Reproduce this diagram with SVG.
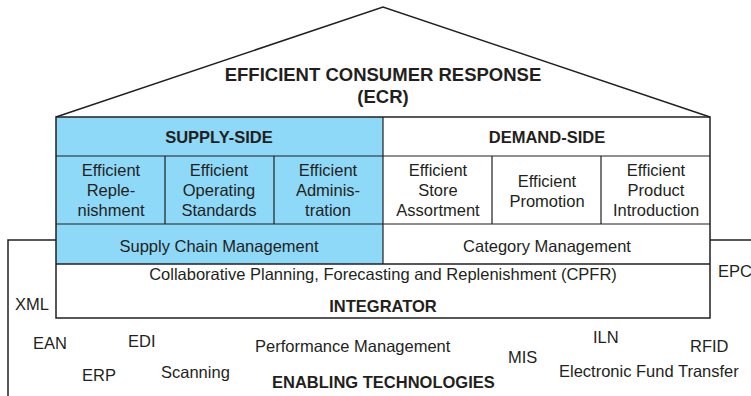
<svg xmlns="http://www.w3.org/2000/svg" width="751" height="396" viewBox="0 0 751 396">
<style>
text{font-family:"Liberation Sans",Arial,sans-serif;fill:#231f20;font-size:16.5px}
.b{font-weight:bold}
.c{text-anchor:middle}
.t{font-size:18.5px;font-weight:bold;text-anchor:middle}
.ln{stroke:#231f20;stroke-width:1.5;fill:none}
.in{stroke:#231f20;stroke-width:1.2;fill:none}
</style>
<rect width="751" height="396" fill="#fff"/>
<g id="connectors">
<path class="ln" d="M56,240 H8 V396"/>
<path class="ln" d="M710,240 H751"/>
</g>
<g id="roof">
<path class="ln" d="M56,117 L383,7 L710,117"/>
<text class="t" x="383" y="81">EFFICIENT CONSUMER RESPONSE</text>
<text class="t" x="383" y="103">(ECR)</text>
</g>
<g id="supply-side">
<rect x="56" y="117" width="327" height="147" fill="#8ed8f8"/>
<text class="b c" x="219" y="143">SUPPLY-SIDE</text>
</g>
<g id="demand-side">
<text class="b c" x="547" y="143">DEMAND-SIDE</text>
</g>
<g id="efficient-replenishment">
<text class="c" x="111" y="176">Efficient</text>
<text class="c" x="111" y="196">Reple-</text>
<text class="c" x="111" y="216">nishment</text>
</g>
<g id="efficient-operating-standards">
<text class="c" x="219" y="176">Efficient</text>
<text class="c" x="219" y="196">Operating</text>
<text class="c" x="219" y="216">Standards</text>
</g>
<g id="efficient-administration">
<text class="c" x="328" y="176">Efficient</text>
<text class="c" x="328" y="196">Adminis-</text>
<text class="c" x="328" y="216">tration</text>
</g>
<g id="efficient-store-assortment">
<text class="c" x="438" y="176">Efficient</text>
<text class="c" x="438" y="196">Store</text>
<text class="c" x="438" y="216">Assortment</text>
</g>
<g id="efficient-promotion">
<text class="c" x="547" y="187">Efficient</text>
<text class="c" x="547" y="207">Promotion</text>
</g>
<g id="efficient-product-introduction">
<text class="c" x="656" y="176">Efficient</text>
<text class="c" x="656" y="196">Product</text>
<text class="c" x="656" y="216">Introduction</text>
</g>
<g id="supply-chain-management">
<text class="c" x="219" y="252">Supply Chain Management</text>
</g>
<g id="category-management">
<text class="c" x="547" y="252">Category Management</text>
</g>
<g id="integrator">
<text class="c" x="383" y="280">Collaborative Planning, Forecasting and Replenishment (CPFR)</text>
<text class="b c" x="383" y="312">INTEGRATOR</text>
</g>
<g id="grid">
<path class="in" d="M56,156 H710 M56,224 H710 M383,117 V264 M165,156 V224 M274,156 V224 M492,156 V224 M601,156 V224"/>
<path class="ln" d="M56,264 H710"/>
<rect class="ln" x="56" y="117" width="654" height="201"/>
</g>
<g id="enabling-technologies">
<text x="15" y="310">XML</text>
<text x="718" y="277">EPC</text>
<text x="33" y="349">EAN</text>
<text x="128" y="347">EDI</text>
<text x="82" y="381">ERP</text>
<text x="161" y="378">Scanning</text>
<text x="255" y="352">Performance Management</text>
<text class="b" x="272" y="388">ENABLING TECHNOLOGIES</text>
<text x="508" y="363">MIS</text>
<text x="593" y="343">ILN</text>
<text x="690" y="352">RFID</text>
<text x="559" y="377">Electronic Fund Transfer</text>
</g>
</svg>
